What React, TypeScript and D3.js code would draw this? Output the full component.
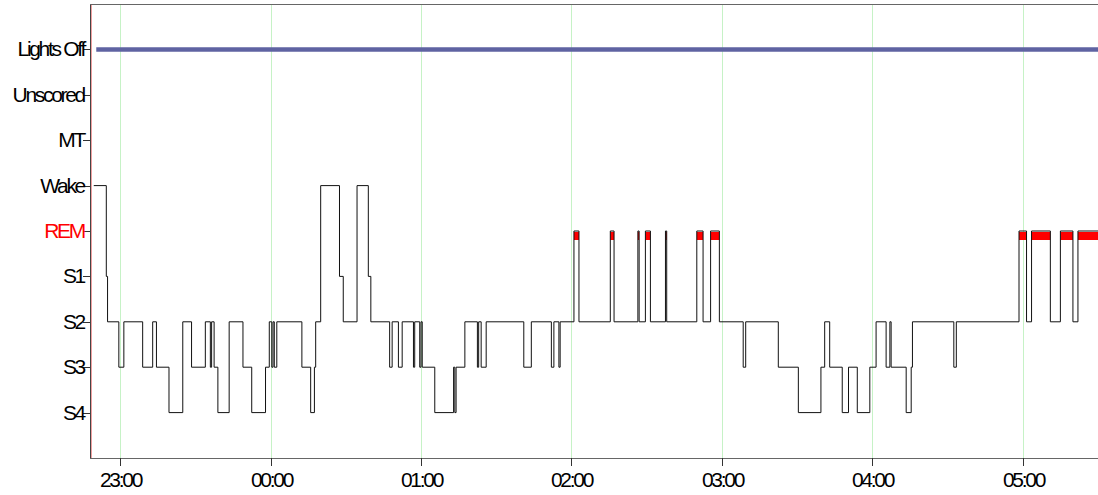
import { useMemo } from "react";
import * as d3 from "d3";

const WIDTH = 1098;
const HEIGHT = 495;
const MARGIN = { top: 4, right: 0, bottom: 37, left: 90 };

const STAGES = ["Lights Off", "Unscored", "MT", "Wake", "REM", "S1", "S2", "S3", "S4"];

const RECORD_START = "22:48:00";
const RECORD_END = "05:30:00";
const LIGHTS_OFF = ["22:50:30", "05:30:00"];

// stage changes: start time of each segment and the stage it goes to
const epochTimes = [
  "22:49:30", "22:54:30", "22:55:00", "22:59:30", "23:01:30", "23:09:00", "23:13:00", "23:14:30",
  "23:19:30", "23:25:00", "23:28:30", "23:34:00", "23:36:00", "23:36:30", "23:37:30", "23:39:00",
  "23:43:30", "23:49:00", "23:52:30", "23:58:00", "23:59:30", "00:00:30", "00:01:00", "00:01:30",
  "00:02:30", "00:12:30", "00:16:00", "00:17:30", "00:18:00", "00:20:00", "00:27:30", "00:29:00",
  "00:34:30", "00:39:00", "00:40:00", "00:47:30", "00:48:30", "00:51:00", "00:52:30", "00:57:00",
  "00:57:30", "00:59:30", "01:00:00", "01:00:30", "01:05:30", "01:13:00", "01:13:30", "01:14:00",
  "01:17:30", "01:22:30", "01:23:00", "01:24:00", "01:26:00", "01:41:00", "01:44:00", "01:52:00",
  "01:53:00", "01:55:00", "01:55:30", "02:01:00", "02:03:00", "02:15:30", "02:17:00", "02:26:30",
  "02:27:00", "02:29:30", "02:31:30", "02:37:30", "02:38:00", "02:50:00", "02:52:30", "02:55:30",
  "02:59:00", "03:08:30", "03:09:30", "03:22:30", "03:30:30", "03:39:30", "03:41:00", "03:43:00",
  "03:48:00", "03:50:30", "03:54:00", "03:59:00", "04:01:30", "04:05:30", "04:07:00", "04:07:30",
  "04:13:30", "04:15:30", "04:16:00", "04:32:30", "04:33:30", "04:58:30", "05:01:30", "05:03:30",
  "05:11:00", "05:15:00", "05:20:00", "05:22:00",
];

const epochStages = [
  "Wake", "S1", "S2", "S3", "S2", "S3", "S2", "S3",
  "S4", "S2", "S3", "S2", "S3", "S2", "S3", "S4",
  "S2", "S3", "S4", "S3", "S2", "S3", "S2", "S3",
  "S2", "S3", "S4", "S3", "S2", "Wake", "S1", "S2",
  "Wake", "S1", "S2", "S3", "S2", "S3", "S2", "S3",
  "S2", "S3", "S2", "S3", "S4", "S3", "S4", "S3",
  "S2", "S3", "S2", "S3", "S2", "S3", "S2", "S3",
  "S2", "S3", "S2", "REM", "S2", "REM", "S2", "REM",
  "S2", "REM", "S2", "REM", "S2", "REM", "S2", "REM",
  "S2", "S3", "S2", "S3", "S4", "S3", "S2", "S3",
  "S4", "S3", "S4", "S3", "S2", "S3", "S2", "S3",
  "S4", "S3", "S2", "S3", "S2", "REM", "S2", "REM",
  "S2", "REM", "S2", "REM",
];

const FONT = "'Liberation Sans', Arial, sans-serif";

// clock time -> Date, hours after noon fall on the first night
const parseClock = (s: string) => {
  const [h, m, sec] = s.split(":").map(Number);
  return new Date(2000, 0, h >= 12 ? 1 : 2, h, m, sec);
};

const App = () => {
  const boundsWidth = WIDTH - MARGIN.left - MARGIN.right;
  const boundsHeight = HEIGHT - MARGIN.top - MARGIN.bottom;

  const xScale = useMemo(
    () =>
      d3
        .scaleTime()
        .domain([parseClock(RECORD_START), parseClock(RECORD_END)])
        .range([0, boundsWidth]),
    [boundsWidth]
  );

  const yScale = useMemo(
    () => d3.scalePoint<string>().domain(STAGES).range([0, boundsHeight]).padding(1),
    [boundsHeight]
  );

  const segments = epochTimes.map((t, i) => ({
    start: parseClock(t),
    end: parseClock(i < epochTimes.length - 1 ? epochTimes[i + 1] : RECORD_END),
    stage: epochStages[i],
  }));

  const points = segments.map((s) => ({ t: s.start, stage: s.stage }));
  points.push({ t: parseClock(RECORD_END), stage: epochStages[epochStages.length - 1] });

  const lineBuilder = d3
    .line<any>()
    .x((d) => xScale(d.t))
    .y((d) => yScale(d.stage) as number)
    .curve(d3.curveStepAfter);

  const linePath = lineBuilder(points) || "";
  const hourTicks = xScale.ticks(d3.timeHour.every(1) as any);
  const fmt = d3.timeFormat("%H:%M");

  return (
    <svg
      width={WIDTH}
      height={HEIGHT}
      style={{ position: "absolute", left: 0, top: 0, background: "#fff" }}
    >
      <g transform={`translate(${MARGIN.left},${MARGIN.top})`}>
        {/* hour grid */}
        {hourTicks.map((t) => (
          <line
            key={"g" + t.getTime()}
            x1={Math.round(xScale(t)) + 0.5}
            x2={Math.round(xScale(t)) + 0.5}
            y1={0}
            y2={boundsHeight}
            stroke="#c6f2c6"
            strokeWidth={1}
          />
        ))}

        {/* lights off */}
        <line
          x1={xScale(parseClock(LIGHTS_OFF[0]))}
          x2={xScale(parseClock(LIGHTS_OFF[1]))}
          y1={yScale("Lights Off")}
          y2={yScale("Lights Off")}
          stroke="#5f63a2"
          strokeWidth={4.5}
        />

        {/* REM bars */}
        {segments
          .filter((s) => s.stage === "REM")
          .map((s, i) => (
            <rect
              key={"r" + i}
              x={xScale(s.start)}
              y={(yScale("REM") as number) + 1}
              width={xScale(s.end) - xScale(s.start)}
              height={8}
              fill="#ff0000"
            />
          ))}

        <path d={linePath} fill="none" stroke="#111" strokeWidth={1} />

        {/* frame */}
        <line x1={0.5} x2={0.5} y1={0} y2={boundsHeight} stroke="#444" />
        <line x1={1.5} x2={1.5} y1={0} y2={boundsHeight} stroke="#f0a0a0" />
        <line x1={0} x2={boundsWidth} y1={0.5} y2={0.5} stroke="#666" />
        <line x1={0} x2={boundsWidth} y1={boundsHeight + 0.5} y2={boundsHeight + 0.5} stroke="#666" />

        {/* y axis */}
        {STAGES.map((s) => {
          const y = Math.round(yScale(s) as number) + 0.5;
          return (
            <g key={s} transform={`translate(0,${y})`}>
              <line x1={-7} x2={0} stroke="#333" />
              <text
                x={-6}
                dy={6}
                textAnchor="end"
                fontFamily={FONT}
                fontSize={21}
                letterSpacing={-2.3}
                fill={s === "REM" ? "#ff0000" : "#000"}
              >
                {s}
              </text>
            </g>
          );
        })}

        {/* x axis */}
        {hourTicks.map((t) => {
          const x = Math.round(xScale(t)) + 0.5;
          return (
            <g key={"x" + t.getTime()} transform={`translate(${x},${boundsHeight})`}>
              <line y1={0} y2={8} stroke="#333" />
              <text
                y={29}
                textAnchor="middle"
                fontFamily={FONT}
                fontSize={21}
                letterSpacing={-2.3}
                fill="#000"
              >
                {fmt(t)}
              </text>
            </g>
          );
        })}
      </g>
    </svg>
  );
};

export default App;
